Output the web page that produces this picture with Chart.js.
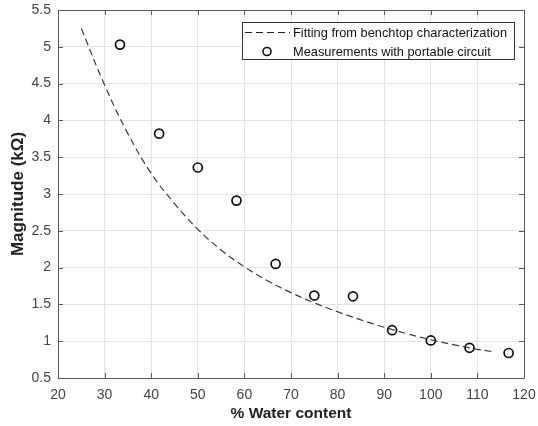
<!DOCTYPE html>
<html>
<head>
<meta charset="utf-8">
<script src="https://cdn.jsdelivr.net/npm/chart.js@4/dist/chart.umd.min.js"></script>
<style>
html,body{margin:0;padding:0;background:#fff;}
#wrap{width:538px;height:426px;position:relative;}
</style>
</head>
<body>
<div id="wrap"><canvas id="c" width="538" height="426"></canvas></div>
<script>
// Fitted curve
const fitX = [25, 30, 35, 40, 45, 50, 55, 60, 65, 70, 75, 80, 85, 90, 95, 100, 105, 110, 113];
const fitY = [5.25, 4.48, 3.82, 3.28, 2.87, 2.52, 2.24, 2.01, 1.82, 1.66, 1.52, 1.40, 1.29, 1.19, 1.10, 1.02, 0.95, 0.89, 0.86];
// Measurements
const measX = [33.3, 41.7, 50, 58.3, 66.7, 75, 83.3, 91.7, 100, 108.3, 116.7];
const measY = [5.03, 3.82, 3.36, 2.91, 2.05, 1.62, 1.61, 1.15, 1.01, 0.91, 0.84];
// Axes
const xTicks = [20, 30, 40, 50, 60, 70, 80, 90, 100, 110, 120];
const yTicks = [0.5, 1, 1.5, 2, 2.5, 3, 3.5, 4, 4.5, 5, 5.5];
const seriesNames = ['Fitting from benchtop characterization', 'Measurements with portable circuit'];
const xTitle = '% Water content';
const yTitle = 'Magnitude (k\u03A9)';

const FONT = '"Liberation Sans", Arial, Helvetica, sans-serif';
const AXIS_COLOR = '#5a5a5a';

const boxPlugin = {
  id: 'boxPlugin',
  afterDatasetsDraw(chart) {
    const ctx = chart.ctx;
    const a = chart.chartArea;
    const xs = chart.scales.x, ys = chart.scales.y;
    ctx.save();
    ctx.strokeStyle = AXIS_COLOR;
    ctx.lineWidth = 1;
    ctx.beginPath();
    ctx.rect(Math.round(a.left) + 0.5, Math.round(a.top) + 0.5, Math.round(a.right - a.left), Math.round(a.bottom - a.top));
    ctx.stroke();
    // inward ticks
    ctx.beginPath();
    const tl = 5;
    xTicks.forEach(v => {
      const px = Math.round(xs.getPixelForValue(v)) + 0.5;
      ctx.moveTo(px, a.bottom); ctx.lineTo(px, a.bottom - tl);
      ctx.moveTo(px, a.top); ctx.lineTo(px, a.top + tl);
    });
    yTicks.forEach(v => {
      const py = Math.round(ys.getPixelForValue(v)) + 0.5;
      ctx.moveTo(a.left, py); ctx.lineTo(a.left + tl, py);
      ctx.moveTo(a.right, py); ctx.lineTo(a.right - tl, py);
    });
    ctx.stroke();
    // legend
    const lx = 242.5, ly = 22.5, lw = 272, lh = 37;
    ctx.fillStyle = '#ffffff';
    ctx.fillRect(lx, ly, lw, lh);
    ctx.strokeStyle = '#333333';
    ctx.strokeRect(lx, ly, lw, lh);
    ctx.font = '12.8px ' + FONT;
    ctx.fillStyle = '#111111';
    ctx.textBaseline = 'middle';
    ctx.textAlign = 'left';
    ctx.fillText(seriesNames[0], 293, 33);
    ctx.fillText(seriesNames[1], 293, 52);
    ctx.strokeStyle = '#222222';
    ctx.lineWidth = 1;
    ctx.setLineDash([7, 4]);
    ctx.beginPath();
    ctx.moveTo(245, 32.5); ctx.lineTo(290, 32.5);
    ctx.stroke();
    ctx.setLineDash([]);
    ctx.lineWidth = 1.6;
    ctx.strokeStyle = '#111111';
    ctx.beginPath();
    ctx.arc(267, 51.5, 4, 0, Math.PI * 2);
    ctx.stroke();
    ctx.restore();
  }
};

new Chart(document.getElementById('c'), {
  type: 'scatter',
  data: {
    datasets: [
      {
        label: seriesNames[0],
        data: fitX.map((x, i) => ({x: x, y: fitY[i]})),
        showLine: true,
        borderColor: '#3a3a3a',
        borderWidth: 1.2,
        borderDash: [7, 4],
        pointRadius: 0,
        tension: 0.4,
        fill: false
      },
      {
        label: seriesNames[1],
        data: measX.map((x, i) => ({x: x, y: measY[i]})),
        showLine: false,
        pointStyle: 'circle',
        pointRadius: 4.5,
        borderWidth: 1.7,
        borderColor: '#111111',
        backgroundColor: 'rgba(0,0,0,0)'
      }
    ]
  },
  options: {
    responsive: false,
    animation: false,
    devicePixelRatio: 1,
    layout: {padding: {top: 10, right: 14, left: 0, bottom: 0}},
    plugins: {legend: {display: false}, tooltip: {enabled: false}},
    scales: {
      x: {
        type: 'linear',
        min: 20, max: 120,
        afterBuildTicks(s) { s.ticks = xTicks.map(v => ({value: v})); },
        afterFit(s) { s.height = 48; s.paddingLeft = 0; s.paddingRight = 0; },
        grid: {color: '#e3e3e3', drawTicks: false},
        border: {display: false},
        ticks: {font: {size: 14, family: FONT}, color: '#444444', padding: 9, maxRotation: 0, autoSkip: false,
                callback: v => String(v)},
        title: {display: true, text: xTitle, font: {size: 15.5, weight: 'bold', family: FONT}, color: '#222222', padding: {top: 0, bottom: 3}}
      },
      y: {
        type: 'linear',
        min: 0.5, max: 5.5,
        afterBuildTicks(s) { s.ticks = yTicks.map(v => ({value: v})); },
        afterFit(s) { s.width = 58; s.paddingTop = 0; s.paddingBottom = 0; },
        grid: {color: '#e3e3e3', drawTicks: false},
        border: {display: false},
        ticks: {font: {size: 14, family: FONT}, color: '#444444', padding: 7, autoSkip: false,
                callback: v => String(v)},
        title: {display: true, text: yTitle, font: {size: 17, weight: 'bold', family: FONT}, color: '#222222', padding: {top: 8, bottom: 0}}
      }
    }
  },
  plugins: [boxPlugin]
});
</script>
</body>
</html>
